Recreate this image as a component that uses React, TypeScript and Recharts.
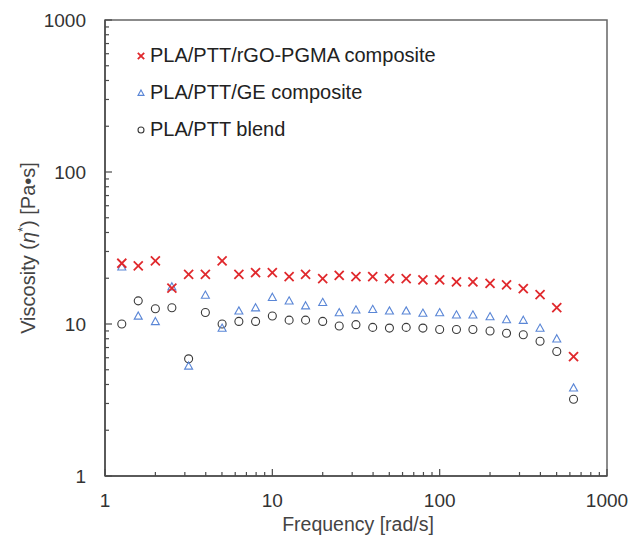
import { ScatterChart, Scatter, XAxis, YAxis, ReferenceArea, Legend, Label } from "recharts";

// angular frequency [rad/s], ~10 pts per decade
const freq = [1.26, 1.58, 2, 2.51, 3.16, 3.98, 5.01, 6.31, 7.94, 10, 12.6, 15.8, 20, 25.1, 31.6, 39.8, 50.1, 63.1, 79.4, 100, 126, 158, 200, 251, 316, 398, 501, 631];
const rgoPgma = [25.1, 24.1, 26.0, 17.2, 21.2, 21.2, 26.0, 21.2, 21.8, 21.8, 20.5, 21.2, 19.9, 20.9, 20.5, 20.5, 19.9, 19.9, 19.5, 19.5, 18.9, 18.9, 18.5, 18.1, 17.1, 15.6, 12.8, 6.1];
const geComp = [23.8, 11.3, 10.4, 17.6, 5.3, 15.5, 9.4, 12.2, 12.8, 15.0, 14.2, 13.2, 13.9, 11.9, 12.4, 12.5, 12.2, 12.2, 11.8, 11.9, 11.5, 11.5, 11.2, 10.7, 10.6, 9.4, 8.0, 3.8];
const blend = [10.0, 14.2, 12.6, 12.8, 5.9, 11.9, 10.0, 10.4, 10.4, 11.3, 10.6, 10.6, 10.4, 9.7, 9.9, 9.5, 9.4, 9.5, 9.4, 9.2, 9.2, 9.2, 9.0, 8.7, 8.5, 7.7, 6.6, 3.2];

const seriesNames = ["PLA/PTT/rGO-PGMA composite", "PLA/PTT/GE composite", "PLA/PTT blend"];
const logTicks = [1, 2, 3, 4, 5, 6, 7, 8, 9, 10, 20, 30, 40, 50, 60, 70, 80, 90, 100, 200, 300, 400, 500, 600, 700, 800, 900, 1000];
const majorTicks = [1, 10, 100, 1000];

const FONT = "'Liberation Sans', Arial, sans-serif";
const RED = "#e0282c";
const BLUE = "#5a86d6";
const DARK = "#3a3a3a";
const AXIS = "#4a4a4a";

const toPoints = (vals: number[]) => freq.map((f, i) => ({ f, v: vals[i] }));

function Cross({ cx, cy, s = 4.5 }: { cx?: number; cy?: number; s?: number }) {
  if (cx == null || cy == null) return null;
  return (
    <g stroke={RED} strokeWidth={1.8}>
      <line x1={cx - s} y1={cy - s} x2={cx + s} y2={cy + s} />
      <line x1={cx - s} y1={cy + s} x2={cx + s} y2={cy - s} />
    </g>
  );
}

function Tri({ cx, cy, s = 4 }: { cx?: number; cy?: number; s?: number }) {
  if (cx == null || cy == null) return null;
  return <polygon points={`${cx},${cy - s} ${cx + s},${cy + s * 0.8} ${cx - s},${cy + s * 0.8}`} fill="none" stroke={BLUE} strokeWidth={1.1} />;
}

function Ring({ cx, cy, r = 4 }: { cx?: number; cy?: number; r?: number }) {
  if (cx == null || cy == null) return null;
  return <circle cx={cx} cy={cy} r={r} fill="none" stroke={DARK} strokeWidth={1.1} />;
}

function XTick({ x, y, payload }: any) {
  const major = majorTicks.includes(payload.value);
  const len = major ? 7 : 4;
  return (
    <g>
      <line x1={x} y1={y} x2={x} y2={y - len} stroke={AXIS} strokeWidth={1.2} />
      {major && (
        <text x={x} y={y + 31} textAnchor="middle" fontSize={19} fontFamily={FONT} fill="#333">
          {payload.value}
        </text>
      )}
    </g>
  );
}

function YTick({ x, y, payload }: any) {
  const major = majorTicks.includes(payload.value);
  const len = major ? 7 : 4;
  return (
    <g>
      <line x1={x} y1={y} x2={x + len} y2={y} stroke={AXIS} strokeWidth={1.2} />
      {major && (
        <text x={x - 19} y={y + 7} textAnchor="end" fontSize={19} fontFamily={FONT} fill="#333">
          {payload.value}
        </text>
      )}
    </g>
  );
}

const legendMarks = [
  <Cross cx={5} cy={5} s={3.2} />,
  <Tri cx={5} cy={5} s={3} />,
  <Ring cx={5} cy={5} r={3} />,
];

function LegendBox() {
  return (
    <div style={{ fontFamily: FONT, fontSize: 20, color: "#222" }}>
      {seriesNames.map((n, i) => (
        <div key={n} style={{ display: "flex", alignItems: "center", height: 37 }}>
          <svg width={10} height={10} style={{ marginRight: 4 }}>{legendMarks[i]}</svg>
          <span>{n}</span>
        </div>
      ))}
    </div>
  );
}

export default function App() {
  return (
    <div style={{ position: "absolute", left: 0, top: 0, width: 630, height: 542, background: "#fff" }}>
      <ScatterChart width={630} height={542} margin={{ top: 20, right: 23, left: 0, bottom: 0 }}>
        <XAxis
          dataKey="f"
          type="number"
          scale="log"
          domain={[1, 1000]}
          ticks={logTicks}
          interval={0}
          allowDataOverflow
          height={66}
          tickSize={0}
          tickMargin={0}
          tick={<XTick />}
          stroke={AXIS}
          strokeWidth={1.5}
        >
          <Label
            content={({ viewBox }: any) => (
              <text x={viewBox.x + viewBox.width / 2 + 2} y={531} textAnchor="middle" fontSize={19.5} fontFamily={FONT} fill="#444">
                Frequency [rad/s]
              </text>
            )}
          />
        </XAxis>
        <YAxis
          dataKey="v"
          type="number"
          scale="log"
          domain={[1, 1000]}
          ticks={logTicks}
          interval={0}
          allowDataOverflow
          width={105}
          tickSize={0}
          tickMargin={0}
          tick={<YTick />}
          stroke={AXIS}
          strokeWidth={1.5}
        >
          <Label
            content={({ viewBox }: any) => {
              const cy = viewBox.y + viewBox.height / 2;
              return (
                <text x={28} y={cy} transform={`rotate(-90 28 ${cy})`} textAnchor="middle" dominantBaseline="central" fontSize={20} fontFamily={FONT} fill="#444">
                  Viscosity (<tspan fontStyle="italic">η</tspan>
                  <tspan dy={-6} fontSize={13}>*</tspan>
                  <tspan dy={6}>) [Pa•s]</tspan>
                </text>
              );
            }}
          />
        </YAxis>
        <ReferenceArea x1={1} x2={1000} y1={1} y2={1000} fill="none" stroke="#666" strokeWidth={1.5} />
        <Legend
          layout="horizontal"
          verticalAlign="middle"
          align="center"
          wrapperStyle={{ left: 136, top: 37, width: 440 }}
          content={() => <LegendBox />}
        />
        <Scatter name={seriesNames[2]} data={toPoints(blend)} shape={(p: any) => <Ring cx={p.cx} cy={p.cy} />} isAnimationActive={false} />
        <Scatter name={seriesNames[1]} data={toPoints(geComp)} shape={(p: any) => <Tri cx={p.cx} cy={p.cy} />} isAnimationActive={false} />
        <Scatter name={seriesNames[0]} data={toPoints(rgoPgma)} shape={(p: any) => <Cross cx={p.cx} cy={p.cy} />} isAnimationActive={false} />
      </ScatterChart>
    </div>
  );
}
